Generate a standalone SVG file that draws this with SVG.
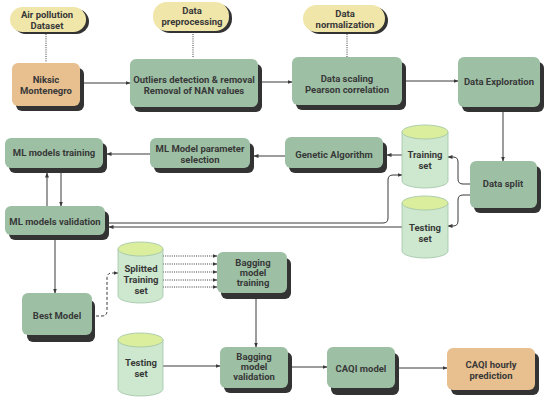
<svg xmlns="http://www.w3.org/2000/svg" width="550" height="400" viewBox="0 0 550 400">
<defs>
<marker id="ah" viewBox="0 0 10 10" refX="9" refY="5" markerWidth="5" markerHeight="5" orient="auto" markerUnits="userSpaceOnUse">
<path d="M0,1 L10,5 L0,9 Z" fill="#3a3a3a"/>
</marker>
<style>
.sh{fill:#333333}
.g{fill:#9dc0a5}
.o{fill:#e8c08f}
.p{fill:#f1e6aa}
.cb{fill:#cde8cf;stroke:#9fc3a6;stroke-width:0.8}
.ct{fill:#dbee9e;stroke:#9fc3a6;stroke-width:0.8}
text{font-family:"Roboto","Liberation Sans",sans-serif;font-weight:700;font-size:9.5px;fill:#383838;text-anchor:middle}
.c{fill:none;stroke:#3a3a3a;stroke-width:1}
.a{marker-end:url(#ah)}
.dot{fill:none;stroke:#3a3a3a;stroke-width:1;stroke-dasharray:1 1.2}
.dash{fill:none;stroke:#3a3a3a;stroke-width:1;stroke-dasharray:3 2}
</style>
</defs>
<rect width="550" height="400" fill="#ffffff"/>

<g id="connectors">
<path class="dot" d="M46 34 V62"/>
<path class="dot" d="M193 34 V58"/>
<path class="dot" d="M347 34 V57"/>
<path class="c a" d="M84 83 H130"/>
<path class="c a" d="M262 82 H292"/>
<path class="c a" d="M406 81 H458"/>
<path class="c a" d="M503 112 V161"/>
<path class="c a" d="M470 184 H463 Q458 184 458 179 V162 Q458 157 453 157 H448"/>
<path class="c a" d="M470 195 H463 Q458 195 458 200 V221 Q458 226 453 226 H448"/>
<path class="c a" d="M402 155 H387"/>
<path class="c a" d="M285 156 H254"/>
<path class="c a" d="M150 154 H107"/>
<path class="c a" d="M47 206 V173"/>
<path class="c a" d="M61 173 V206"/>
<path class="c a" d="M109 223 H383 Q388 223 388 218 V180 Q388 175 393 175 H402"/>
<path class="c a" d="M402 227 H109"/>
<path class="c a" d="M55 240 V293"/>
<path class="dash a" d="M96 316 H102 Q107 316 107 311 V278 Q107 273 112 273 H118"/>
<path class="dot a" d="M163 256 H217"/>
<path class="dot a" d="M163 264 H217"/>
<path class="dot a" d="M163 272 H217"/>
<path class="dot a" d="M163 280 H217"/>
<path class="dot a" d="M163 287 H217"/>
<path class="c a" d="M256 298 V347"/>
<path class="c a" d="M163 366 H220"/>
<path class="c a" d="M292 367 H327"/>
<path class="c a" d="M399 368 H447"/>
</g>

<g id="pill-air">
<rect class="sh" x="13" y="9" width="76" height="25" rx="12.5"/>
<rect class="p" x="10" y="7" width="76" height="25" rx="12.5"/>
<text x="47" y="18">Air pollution</text>
<text x="47" y="28.5">Dataset</text>
</g>
<g id="pill-prep">
<rect class="sh" x="156" y="4" width="76" height="29" rx="14"/>
<rect class="p" x="153" y="2" width="76" height="29" rx="14"/>
<text x="192" y="14">Data</text>
<text x="192" y="25">preprocessing</text>
</g>
<g id="pill-norm">
<rect class="sh" x="306" y="7" width="82" height="27" rx="13.5"/>
<rect class="p" x="303" y="5" width="82" height="27" rx="13.5"/>
<text x="345" y="17">Data</text>
<text x="345" y="28">normalization</text>
</g>

<g id="niksic">
<rect class="sh" x="16" y="68" width="68" height="43" rx="6"/>
<rect class="o" x="12" y="63" width="68" height="43" rx="6"/>
<text x="46" y="82.5">Niksic</text>
<text x="46" y="93.5">Montenegro</text>
</g>
<g id="outliers">
<rect class="sh" x="134" y="64" width="128" height="48" rx="6"/>
<rect class="g" x="130" y="59" width="128" height="48" rx="6"/>
<text x="194" y="82.5">Outliers detection &amp; removal</text>
<text x="194" y="93.5">Removal of NAN values</text>
</g>
<g id="scaling">
<rect class="sh" x="296" y="62" width="110" height="48" rx="6"/>
<rect class="g" x="292" y="57" width="110" height="48" rx="6"/>
<text x="347" y="81.5">Data scaling</text>
<text x="347" y="92.5">Pearson correlation</text>
</g>
<g id="exploration">
<rect class="sh" x="462" y="62" width="82" height="50" rx="6"/>
<rect class="g" x="458" y="57" width="82" height="50" rx="6"/>
<text x="499" y="85">Data Exploration</text>
</g>
<g id="datasplit">
<rect class="sh" x="474" y="166" width="67" height="47" rx="6"/>
<rect class="g" x="470" y="161" width="67" height="47" rx="6"/>
<text x="503" y="187">Data split</text>
</g>
<g id="trainingset">
<path class="cb" d="M402 132 V181 A23 7 0 0 0 448 181 V132 Z"/>
<ellipse class="ct" cx="425" cy="132" rx="23" ry="7"/>
<text x="425" y="158">Training</text>
<text x="425" y="168.5">set</text>
</g>
<g id="testingset">
<path class="cb" d="M402 203 V251 A23 7 0 0 0 448 251 V203 Z"/>
<ellipse class="ct" cx="425" cy="203" rx="23" ry="7"/>
<text x="425" y="231">Testing</text>
<text x="425" y="241.5">set</text>
</g>
<g id="genetic">
<rect class="sh" x="289" y="142" width="98" height="31" rx="6"/>
<rect class="g" x="285" y="137" width="98" height="31" rx="6"/>
<text x="334" y="158">Genetic Algorithm</text>
</g>
<g id="param">
<rect class="sh" x="154" y="143" width="100" height="30" rx="6"/>
<rect class="g" x="150" y="138" width="100" height="30" rx="6"/>
<text x="200" y="152">ML Model parameter</text>
<text x="200" y="162.5">selection</text>
</g>
<g id="mltrain">
<rect class="sh" x="9" y="143" width="98" height="30" rx="6"/>
<rect class="g" x="5" y="138" width="98" height="30" rx="6"/>
<text x="54" y="156">ML models training</text>
</g>
<g id="mlval">
<rect class="sh" x="9" y="211" width="100" height="29" rx="6"/>
<rect class="g" x="5" y="206" width="100" height="29" rx="6"/>
<text x="55" y="225">ML models validation</text>
</g>
<g id="best">
<rect class="sh" x="27" y="300" width="68" height="42" rx="6"/>
<rect class="g" x="22" y="293" width="70" height="42" rx="6"/>
<text x="57" y="319">Best Model</text>
</g>
<g id="splitted">
<path class="cb" d="M118 249 V296 A22.5 7 0 0 0 163 296 V249 Z"/>
<ellipse class="ct" cx="140.5" cy="249" rx="22.5" ry="7"/>
<text x="141" y="272">Splitted</text>
<text x="141" y="283">Training</text>
<text x="141" y="293.5">set</text>
</g>
<g id="bagtrain">
<rect class="sh" x="221" y="258" width="70" height="41" rx="6"/>
<rect class="g" x="217" y="252" width="70" height="41" rx="6"/>
<text x="253" y="266">Bagging</text>
<text x="253" y="276">model</text>
<text x="253" y="286">training</text>
</g>
<g id="testing2">
<path class="cb" d="M118 340 V389 A22.5 7 0 0 0 163 389 V340 Z"/>
<ellipse class="ct" cx="140.5" cy="340" rx="22.5" ry="7"/>
<text x="141" y="366">Testing</text>
<text x="141" y="376.5">set</text>
</g>
<g id="bagval">
<rect class="sh" x="224" y="352" width="68" height="41" rx="6"/>
<rect class="g" x="220" y="347" width="68" height="41" rx="6"/>
<text x="254" y="360">Bagging</text>
<text x="254" y="370">model</text>
<text x="254" y="380">validation</text>
</g>
<g id="caqi">
<rect class="sh" x="331" y="353" width="68" height="42" rx="6"/>
<rect class="g" x="327" y="347" width="68" height="41" rx="6"/>
<text x="361" y="372">CAQI model</text>
</g>
<g id="hourly">
<rect class="sh" x="451" y="353" width="88" height="42" rx="6"/>
<rect class="o" x="447" y="348" width="88" height="42" rx="6"/>
<text x="491" y="368">CAQI hourly</text>
<text x="491" y="379">prediction</text>
</g>
</svg>
